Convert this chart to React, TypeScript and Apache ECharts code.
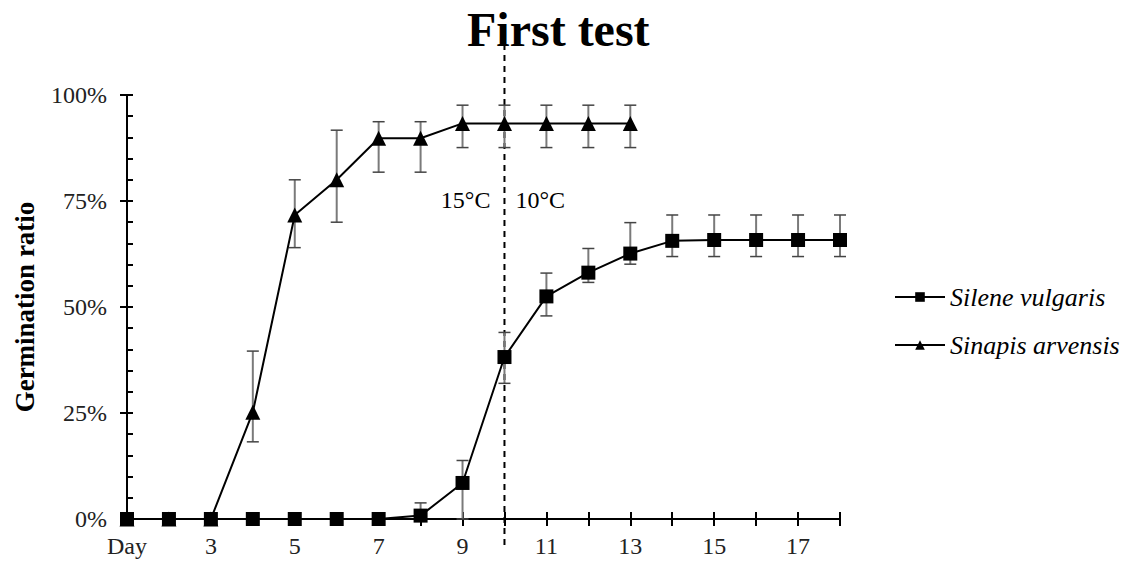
import React, { useEffect, useRef } from "react";
import * as echarts from "echarts";

const days = [1, 2, 3, 4, 5, 6, 7, 8, 9, 10, 11, 12, 13, 14, 15, 16, 17, 18];
const sileneMean = [0, 0, 0, 0, 0, 0, 0, 0.8, 8.5, 38.2, 52.5, 58.1, 62.6, 65.6, 65.8, 65.8, 65.8, 65.8];
const sileneLow = [0, 0, 0, 0, 0, 0, 0, 0, 0, 32, 47.9, 55.8, 60.1, 61.9, 61.9, 61.9, 61.9, 61.9];
const sileneHigh = [0, 0, 0, 0, 0, 0, 0, 3.8, 13.8, 44, 58, 63.8, 69.9, 71.7, 71.7, 71.7, 71.7, 71.7];
const sinapisDays = [1, 2, 3, 4, 5, 6, 7, 8, 9, 10, 11, 12, 13];
const sinapisMean = [0, 0, 0, 25.2, 71.7, 80, 89.8, 89.8, 93.3, 93.3, 93.3, 93.3, 93.3];
const sinapisLow = [0, 0, 0, 18.2, 64, 70, 81.8, 81.8, 87.6, 87.6, 87.6, 87.6, 87.6];
const sinapisHigh = [0, 0, 0, 39.6, 80, 91.7, 93.7, 93.7, 97.6, 97.6, 97.6, 97.6, 97.6];
const switchDay = 10;
const switchRange = [-7, 112];
const labelBefore = "15°C";
const labelAfter = "10°C";
const labelLevel = 75.3;

const FONT = "Liberation Serif";

export default function App() {
  const ref = useRef<HTMLDivElement>(null);
  useEffect(() => {
    if (!ref.current) return;
    const chart = echarts.init(ref.current, undefined, { renderer: "svg" });

    const errRender = (params: any, api: any) => {
      const x = api.value(0);
      const lo = api.value(1);
      const hi = api.value(2);
      if (hi - lo <= 0) return null;
      const p1 = api.coord([x, hi]);
      const p2 = api.coord([x, lo]);
      const w = 6;
      return {
        type: "group",
        children: [
          { type: "line", shape: { x1: p1[0], y1: p1[1], x2: p2[0], y2: p2[1] }, style: { stroke: "#7a7a7a", lineWidth: 2 } },
          { type: "line", shape: { x1: p1[0] - w, y1: p1[1], x2: p1[0] + w, y2: p1[1] }, style: { stroke: "#444", lineWidth: 1.5 } },
          { type: "line", shape: { x1: p2[0] - w, y1: p2[1], x2: p2[0] + w, y2: p2[1] }, style: { stroke: "#444", lineWidth: 1.5 } },
        ],
      };
    };

    const option: any = {
      animation: false,
      title: {
        text: "First test",
        left: 462,
        top: 0,
        textStyle: { fontFamily: FONT, fontWeight: "bold", fontSize: 48, color: "#000" },
      },
      grid: { left: 127, right: 291, top: 95, bottom: 43, containLabel: false },
      legend: {
        data: ["Silene vulgaris", "Sinapis arvensis"],
        orient: "vertical",
        left: 889,
        top: 279,
        itemWidth: 50,
        itemHeight: 12,
        itemGap: 22,
        textStyle: { fontFamily: FONT, fontStyle: "italic", fontSize: 26, color: "#000" },
      },
      xAxis: [
        {
          type: "value",
          min: 1,
          max: 18,
          interval: 1,
          splitLine: { show: false },
          axisLine: { lineStyle: { color: "#000", width: 2 } },
          axisTick: { show: true, length: 7, lineStyle: { color: "#000", width: 2 } },
          axisLabel: {
            margin: 15,
            fontFamily: FONT,
            fontSize: 24,
            color: "#222",
            formatter: (v: number) => (v === 1 ? "Day" : v % 2 === 1 ? String(v) : ""),
          },
        },
        {
          type: "value",
          min: 1,
          max: 18,
          interval: 1,
          position: "bottom",
          splitLine: { show: false },
          axisLine: { show: false },
          axisTick: { show: true, inside: true, length: 7, lineStyle: { color: "#000", width: 2 } },
          axisLabel: { show: false },
        },
      ],
      yAxis: [
        {
          type: "value",
          min: 0,
          max: 100,
          interval: 25,
          name: "Germination ratio",
          nameLocation: "middle",
          nameGap: 89,
          nameRotate: 90,
          nameTextStyle: { fontFamily: FONT, fontWeight: "bold", fontSize: 27, color: "#000" },
          splitLine: { show: false },
          axisLine: { show: true, lineStyle: { color: "#000", width: 2 } },
          axisTick: { show: true, length: 7, lineStyle: { color: "#000", width: 2 } },
          axisLabel: { margin: 20, fontFamily: FONT, fontSize: 24, color: "#222", formatter: (v: number) => v + "%" },
        },
        {
          type: "value",
          min: 0,
          max: 100,
          interval: 5,
          position: "left",
          splitLine: { show: false },
          axisLine: { show: false },
          axisTick: { show: true, inside: true, length: 6, lineStyle: { color: "#000", width: 2 } },
          axisLabel: { show: false },
        },
      ],
      series: [
        {
          type: "custom",
          name: "switch",
          renderItem: (params: any, api: any) => {
            const top = api.coord([api.value(0), api.value(2)]);
            const bot = api.coord([api.value(0), api.value(1)]);
            const lab = api.coord([api.value(0), labelLevel]);
            return {
              type: "group",
              children: [
                { type: "line", shape: { x1: top[0], y1: top[1], x2: bot[0], y2: bot[1] }, style: { stroke: "#000", lineWidth: 2, lineDash: [6, 5] } },
                { type: "text", x: lab[0] - 14, y: lab[1], style: { text: labelBefore, fontFamily: FONT, fontSize: 24, fill: "#000", align: "right", verticalAlign: "middle" } },
                { type: "text", x: lab[0] + 11, y: lab[1], style: { text: labelAfter, fontFamily: FONT, fontSize: 24, fill: "#000", align: "left", verticalAlign: "middle" } },
              ],
            };
          },
          clip: false,
          z: 1,
          encode: { x: 0, y: [1, 2] },
          data: [[switchDay, switchRange[0], switchRange[1]]],
          silent: true,
        },
        {
          type: "custom",
          name: "errSilene",
          renderItem: errRender,
          z: 2,
          encode: { x: 0, y: [1, 2] },
          data: days.map((d, i) => [d, sileneLow[i], sileneHigh[i]]),
        },
        {
          type: "custom",
          name: "errSinapis",
          renderItem: errRender,
          z: 2,
          encode: { x: 0, y: [1, 2] },
          data: sinapisDays.map((d, i) => [d, sinapisLow[i], sinapisHigh[i]]),
        },
        {
          type: "line",
          name: "Silene vulgaris",
          z: 3,
          symbol: "rect",
          symbolSize: 14,
          lineStyle: { color: "#000", width: 2 },
          itemStyle: { color: "#000" },
          data: days.map((d, i) => [d, sileneMean[i]]),
        },
        {
          type: "line",
          name: "Sinapis arvensis",
          z: 3,
          symbol: "triangle",
          symbolSize: 15,
          lineStyle: { color: "#000", width: 2 },
          itemStyle: { color: "#000" },
          data: sinapisDays.map((d, i) => [d, sinapisMean[i]]),
        },
      ],
    };
    chart.setOption(option);
    return () => chart.dispose();
  }, []);
  return <div ref={ref} style={{ width: 1131, height: 562, position: "fixed", left: 0, top: 0, background: "#fff" }} />;
}
